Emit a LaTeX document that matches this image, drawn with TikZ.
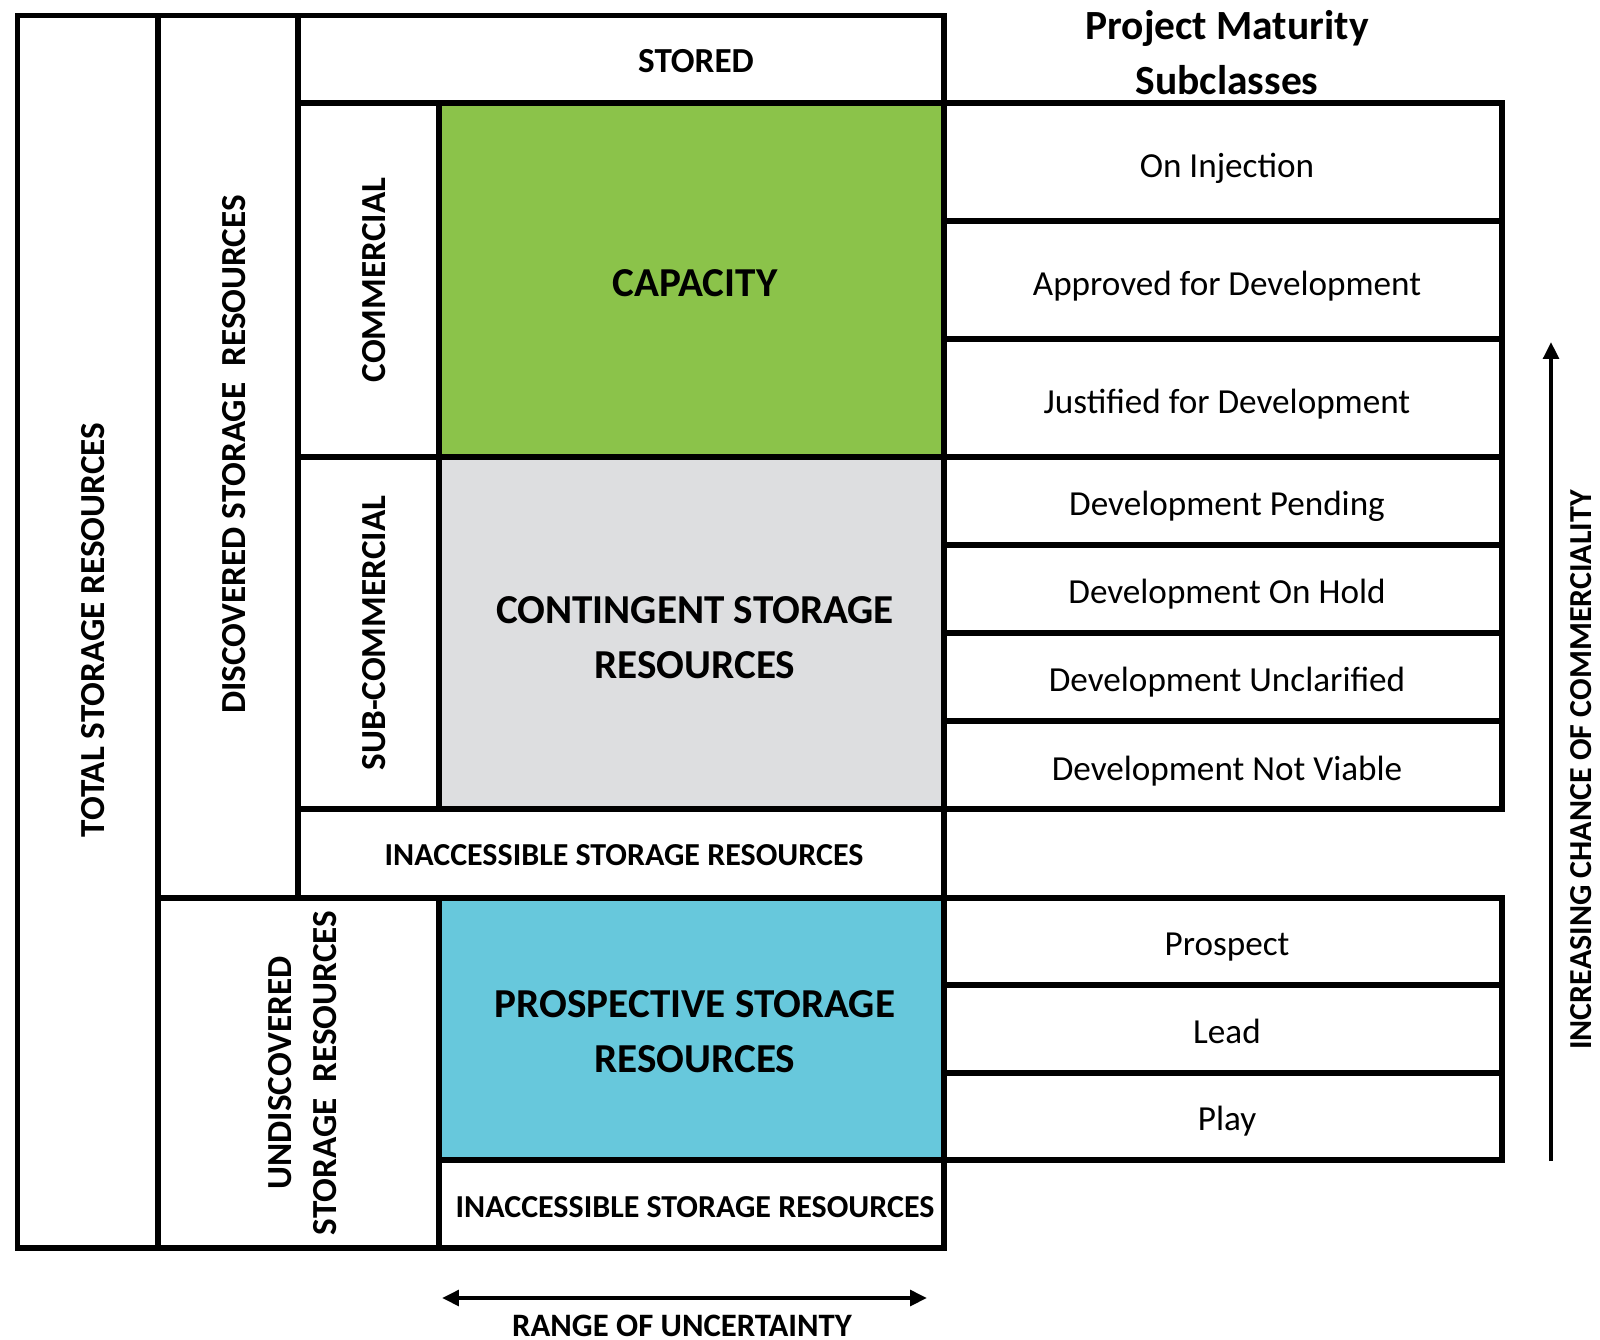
\documentclass[tikz,border=0pt]{standalone}
\usepackage{fontspec}
\setmainfont{Carlito}
\usetikzlibrary{fit,arrows.meta}
\definecolor{capgreen}{RGB}{139,195,74}
\definecolor{contgray}{RGB}{221,222,224}
\definecolor{prosblue}{RGB}{103,200,220}
\begin{document}
\begin{tikzpicture}[x=0.01cm,y=-0.01cm,
  cell/.style={draw=black, line width=1.6pt, inner sep=0pt, rectangle},
  caplab/.style={font=\bfseries\fontsize{10}{12.9}\selectfont, inner sep=0pt, align=center},
  biglab/.style={font=\bfseries\fontsize{11.7}{15.6}\selectfont, inner sep=0pt, align=center},
  inlab/.style={font=\bfseries\fontsize{9.1}{11}\selectfont, inner sep=0pt},
  sublab/.style={font=\fontsize{10}{12}\selectfont, inner sep=0pt, anchor=base},
  titlab/.style={font=\bfseries\fontsize{11.8}{14}\selectfont, inner sep=0pt, anchor=base},
  arr/.style={line width=1.1pt, -{Triangle[length=4.8pt,width=4.4pt]}},
  darr/.style={line width=1.1pt, {Triangle[length=4.8pt,width=4.4pt]}-{Triangle[length=4.8pt,width=4.4pt]}}
]
\useasboundingbox (0,0) rectangle (1600,1340);

% left block cells
\node[cell, fit={(17.5,15.5) (158,1248)}] (total) {};
\node[cell, fit={(158,15.5) (298,898)}] (disc) {};
\node[cell, fit={(298,15.5) (944,103)}] (stored) {};
\node[cell, fit={(298,103) (439,457)}] (comm) {};
\node[cell, fill=capgreen, fit={(439,103) (944,457)}] (capacity) {};
\node[cell, fit={(298,457) (439,809)}] (subcomm) {};
\node[cell, fill=contgray, fit={(439,457) (944,809)}] (contingent) {};
\node[cell, fit={(298,809) (944,898)}] (inacc1) {};
\node[cell, fit={(158,898) (439,1248)}] (undisc) {};
\node[cell, fill=prosblue, fit={(439,898) (944,1160)}] (prospective) {};
\node[cell, fit={(439,1160) (944,1248)}] (inacc2) {};

% right column cells
\node[cell, fit={(944,103) (1502,221)}] (r1) {};
\node[cell, fit={(944,221) (1502,339)}] (r2) {};
\node[cell, fit={(944,339) (1502,457)}] (r3) {};
\node[cell, fit={(944,457) (1502,545)}] (r4) {};
\node[cell, fit={(944,545) (1502,633)}] (r5) {};
\node[cell, fit={(944,633) (1502,721)}] (r6) {};
\node[cell, fit={(944,721) (1502,809)}] (r7) {};
\node[cell, fit={(944,898) (1502,985.3)}] (r8) {};
\node[cell, fit={(944,985.3) (1502,1072.7)}] (r9) {};
\node[cell, fit={(944,1072.7) (1502,1160)}] (r10) {};

% labels of left block
\node[caplab, rotate=90] (tTotal) at (93.4,630) {TOTAL STORAGE RESOURCES};
\node[caplab, rotate=90] (tDisc) at (233.7,454.5) {DISCOVERED STORAGE\ \ RESOURCES};
\node[caplab, anchor=base] (tStored) at (696,72.5) {STORED};
\node[caplab, rotate=90] (tComm) at (373.6,280) {COMMERCIAL};
\node[caplab, rotate=90] (tSub) at (373.6,633) {SUB-COMMERCIAL};
\node[biglab, anchor=base] (tCap) at (695,297) {CAPACITY};
\node[biglab] (tCont) at (695,637.8) {CONTINGENT STORAGE\\RESOURCES};
\node[inlab, anchor=base] (tIn1) at (624,865) {INACCESSIBLE STORAGE RESOURCES};
\node[caplab, rotate=90] (tUnd) at (302.5,1073) {UNDISCOVERED\\STORAGE\ \ RESOURCES};
\node[biglab] (tPros) at (695,1032) {PROSPECTIVE STORAGE\\RESOURCES};
\node[inlab, anchor=base] (tIn2) at (695,1217) {INACCESSIBLE STORAGE RESOURCES};

% right column labels
\node[titlab] (title1) at (1227,39.5) {Project Maturity};
\node[titlab] (title2) at (1227,95) {Subclasses};
\node[sublab] (s1) at (1227,177.5) {On Injection};
\node[sublab] (s2) at (1227,295.5) {Approved for Development};
\node[sublab] (s3) at (1227,413.5) {Justified for Development};
\node[sublab] (s4) at (1227,516) {Development Pending};
\node[sublab] (s5) at (1227,604) {Development On Hold};
\node[sublab] (s6) at (1227,692) {Development Unclarified};
\node[sublab] (s7) at (1227,780) {Development Not Viable};
\node[sublab] (s8) at (1227,955) {Prospect};
\node[sublab] (s9) at (1227,1043) {Lead};
\node[sublab] (s10) at (1227,1130) {Play};

% arrows
\coordinate (rl) at (442,1298);
\coordinate (rr) at (927,1298);
\draw[darr] (rl) -- (rr);
\node[inlab, font=\bfseries\fontsize{9.3}{11}\selectfont, anchor=base] (tRange) at (682,1336) {RANGE OF UNCERTAINTY};
\coordinate (ib) at (1551,1161);
\coordinate (it) at (1551,342);
\draw[arr] (ib) -- (it);
\node[inlab, rotate=90] (tInc) at (1581,770) {INCREASING CHANCE OF COMMERCIALITY};
\end{tikzpicture}
\end{document}
